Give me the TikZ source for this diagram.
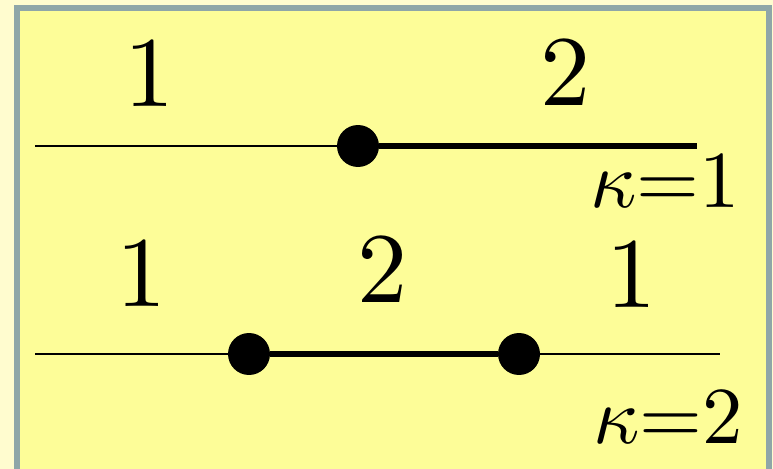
\documentclass[tikz,border=0pt]{standalone}
\usepackage{amsmath}
\usepackage{graphicx}
\usepackage{xcolor}
\usepackage{tikz}
\usetikzlibrary{calc}
\definecolor{creambg}{HTML}{FFFCCF}
\definecolor{panelbg}{HTML}{FDFD98}
\definecolor{panelframe}{HTML}{8FA6A8}
\newcommand{\regionlbl}[1]{\scalebox{5.7}{#1}}
\newcommand{\kappalbl}[1]{\scalebox{4.6}{$\kappa{=}#1$}}
\begin{document}
\begin{tikzpicture}[x=0.02cm, y=-0.02cm,
    dot/.style={circle, fill=black, minimum size=0.84cm, inner sep=0pt},
    thin/.style={line width=0.6pt},
    thick/.style={line width=3.4pt},
    lbl/.style={anchor=base, inner sep=0pt}
]
\useasboundingbox (0,0) rectangle (773,469);
\fill[creambg] (0,0) rectangle (773,469);
\filldraw[fill=panelbg, draw=panelframe, line width=3.4pt] (17,8) rectangle (769,480);

% kappa = 1
\coordinate (a0) at (35,146);
\node[dot] (p1) at (358,146) {};
\coordinate (a1) at (697,146);
\draw[thin] (a0) -- (p1);
\draw[thick] (p1) -- (a1);
\node[lbl] (r11) at (150,107) {\regionlbl{1}};
\node[lbl] (r12) at (566,106) {\regionlbl{2}};
\node[lbl] (k1) at (665,208) {\kappalbl{1}};

% kappa = 2
\coordinate (b0) at (35,354);
\node[dot] (q1) at (249,354) {};
\node[dot] (q2) at (519,354) {};
\coordinate (b1) at (720,354);
\draw[thin] (b0) -- (q1);
\draw[thick] (q1) -- (q2);
\draw[thin] (q2) -- (b1);
\node[lbl] (r21) at (142,306) {\regionlbl{1}};
\node[lbl] (r22) at (383,302) {\regionlbl{2}};
\node[lbl] (r23) at (632,307) {\regionlbl{1}};
\node[lbl] (k2) at (668,443) {\kappalbl{2}};
\end{tikzpicture}
\end{document}
